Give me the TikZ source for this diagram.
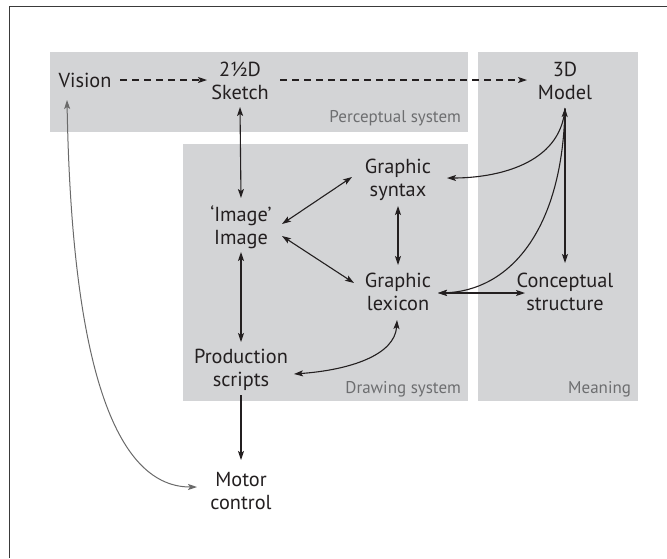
\documentclass[tikz,border=0pt]{standalone}
\usepackage{fontspec}
\setmainfont{PT Sans}
\usetikzlibrary{arrows.meta}
\definecolor{boxgray}{HTML}{D3D4D6}
\definecolor{ink}{HTML}{231F20}
\definecolor{labgray}{HTML}{6D6E70}
\definecolor{curvegray}{HTML}{6A6A6A}
\definecolor{framegray}{HTML}{3A3A3A}
\begin{document}
\begin{tikzpicture}[x=1pt,y=-1pt,
  lbl/.style={inner sep=0pt,outer sep=0pt,align=center,text=ink,font=\fontsize{20.3}{22.5}\selectfont},
  sysl/.style={inner sep=0pt,outer sep=0pt,anchor=east,text=labgray,font=\fontsize{17}{19}\selectfont},
  sysbox/.style={fill=boxgray,draw=none},
  tip/.style={-{Stealth[length=9pt,width=6pt,inset=2pt]}},
  conn/.style={draw=ink,line width=1.1pt,tip},
  dbl/.style={draw=ink,line width=1.1pt,{Stealth[length=9pt,width=6pt,inset=2pt]}-{Stealth[length=9pt,width=6pt,inset=2pt]}},
  dsh/.style={conn,dash pattern=on 7pt off 5pt}]
\useasboundingbox (0,0) rectangle (667,558);
% frame
\draw[framegray,line width=1.5pt] (9.5,558) -- (9.5,6.5) -- (667,6.5);
% system boxes
\fill[sysbox] (50,52) rectangle (468,132);
\fill[sysbox] (183,144) rectangle (468,401);
\fill[sysbox] (478,52) rectangle (638,401);
\node[sysl] (perc) at (461,118) {Perceptual system};
\node[sysl] (draws) at (461,389) {Drawing system};
\node[sysl] (mean) at (631,389) {Meaning};
% nodes
\node[lbl] (vision) at (85,80) {Vision};
\node[lbl] (sketch) at (240,81) {2½D\\Sketch};
\node[lbl] (model) at (565,81) {3D\\Model};
\node[lbl] (syntax) at (398,180) {Graphic\\syntax};
\node[lbl] (image) at (241,227) {‘Image’\\Image};
\node[lbl] (lexicon) at (398,292) {Graphic\\lexicon};
\node[lbl] (prod) at (241,370) {Production\\scripts};
\node[lbl] (concept) at (565,292) {Conceptual\\structure};
\node[lbl] (motor) at (241,491) {Motor\\control};
% connectors
\draw[dsh] ([shift={(35,0)}]vision.center) -- ([shift={(-33,-1)}]sketch.center);
\draw[dsh] ([shift={(40,-1)}]sketch.center) -- ([shift={(-38,-1)}]model.center);
\draw[dbl] ([shift={(0,26)}]sketch.center) -- ([shift={(0,-29)}]image.center);
\draw[dbl] ([shift={(41,-3)}]image.center) -- ([shift={(-46,-3)}]syntax.center);
\draw[dbl] ([shift={(41,9)}]image.center) -- ([shift={(-44,-9)}]lexicon.center);
\draw[dbl] ([shift={(0,26)}]syntax.center) -- ([shift={(0,-27)}]lexicon.center);
\draw[dbl] ([shift={(0,25)}]image.center) -- ([shift={(0,-28)}]prod.center);
\draw[dbl] ([shift={(53,4)}]prod.center) .. controls (350,370) and (395,355) .. ([shift={(-1,28)}]lexicon.center);
\draw[conn] ([shift={(0,25)}]prod.center) -- ([shift={(0,-31)}]motor.center);
\draw[conn] ([shift={(0,27)}]model.center) .. controls (561,165) and (495,178) .. ([shift={(49,-2)}]syntax.center);
\draw[dbl] ([shift={(40,1)}]lexicon.center) .. controls (510,291) and (561,230) .. ([shift={(0,27)}]model.center);
\draw[dbl] ([shift={(40,1)}]lexicon.center) -- ([shift={(-40,1)}]concept.center);
\draw[conn] ([shift={(0,28)}]model.center) -- ([shift={(0,-29)}]concept.center);
\draw[draw=curvegray,line width=1pt,{Stealth[length=9pt,width=6pt,inset=2pt]}-{Stealth[length=9pt,width=6pt,inset=2pt]}] ([shift={(-18,20)}]vision.center) .. controls (72,380) and (120,487) .. ([shift={(-44,-4)}]motor.center);
\end{tikzpicture}
\end{document}
